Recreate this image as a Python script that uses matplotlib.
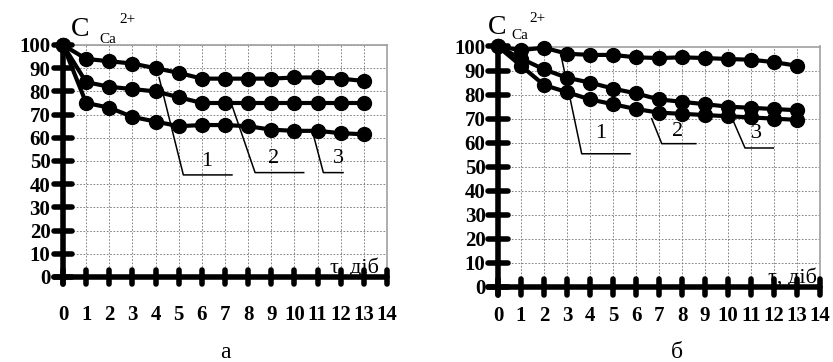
import numpy as np
import matplotlib.pyplot as plt

plt.rcParams['font.family'] = ['Liberation Serif', 'DejaVu Serif']

days = list(range(14))

# panel a
a1 = [100, 94, 93, 92, 90, 88, 85.5, 85.5, 85.5, 85.5, 86, 86, 85.5, 84.5]
a2 = [100, 84, 82, 81, 80, 77.5, 75, 75, 75, 75, 75, 75, 75, 75]
a3 = [100, 75, 73, 69, 67, 65, 65.5, 65.5, 65, 63.5, 63, 63, 62, 61.5]

# panel b
b1 = [100, 98.5, 99.5, 97, 96.5, 96.5, 95.5, 95.2, 95.5, 95.2, 94.8, 94.5, 93.5, 92]
b2 = [100, 95, 90.5, 87, 85, 82.5, 80.5, 78, 77, 76, 75, 74.5, 74, 73.5]
b3 = [100, 92, 84, 81, 78, 76, 74, 72.5, 72, 71.5, 71, 70.5, 70, 69.5]

xticks = list(range(15))
yticks = list(range(0, 101, 10))

fig = plt.figure(figsize=(8.33, 3.62), dpi=100)


def panel(rect, series, leaders, pad_x, ytick_half, xtick_half):
    ax = fig.add_axes(rect)
    ax.set_xlim(0, 14)
    ax.set_ylim(0, 100)
    ax.set_xticks(xticks)
    ax.set_yticks(yticks)
    ax.set_xticklabels([str(v) for v in xticks], fontsize=15, fontweight='bold')
    ax.set_yticklabels([str(v) for v in yticks], fontsize=15, fontweight='bold')
    ax.tick_params(length=0, pad=9, axis='y')
    ax.tick_params(length=0, pad=pad_x, axis='x')
    ax.grid(True, color='#707070', linestyle=(0, (2, 2)), linewidth=0.6)
    for s in ['left', 'bottom']:
        ax.spines[s].set_visible(False)
    for s in ['top', 'right']:
        ax.spines[s].set_color('#a0a0a0')
        ax.spines[s].set_linewidth(1.2)

    # thick axes with cross ticks
    ax.plot([-ytick_half, 14], [0, 0], color='black', lw=4, clip_on=False,
            solid_capstyle='round', zorder=5)
    ax.plot([0, 0], [-xtick_half, 100], color='black', lw=4, clip_on=False,
            solid_capstyle='round', zorder=5)
    for v in yticks:
        ax.plot([-ytick_half, ytick_half], [v, v], color='black', lw=4,
                clip_on=False, solid_capstyle='round', zorder=5)
    for v in xticks:
        ax.plot([v, v], [-xtick_half, xtick_half], color='black', lw=4,
                clip_on=False, solid_capstyle='round', zorder=5)

    for ys in series:
        ax.plot(days, ys, color='black', lw=3, marker='o', markersize=10,
                clip_on=False, zorder=6)

    for lbl, pts, tpos in leaders:
        xs, ys = zip(*pts)
        ax.plot(xs, ys, color='black', lw=1.1, zorder=7)
        ax.text(tpos[0], tpos[1], lbl, fontsize=16, ha='center', va='center',
                zorder=7)
    return ax


ax1 = panel([63 / 833, 1 - 277 / 362, 324 / 833, 232 / 362],
            [a1, a2, a3],
            [('1', [(4.15, 86), (5.2, 44), (7.3, 44)], (6.2, 50)),
             ('2', [(7.3, 74), (8.3, 45), (10.4, 45)], (9.1, 51)),
             ('3', [(10.8, 62), (11.25, 45), (12.1, 45)], (11.9, 51))],
            pad_x=20, ytick_half=0.4, xtick_half=3)
ax1.text(0.73, 106.5, 'C', fontsize=20, ha='center', va='center', clip_on=False)
ax1.text(1.95, 102.5, 'Ca', fontsize=11, ha='center', va='center', clip_on=False)
ax1.text(2.8, 111, '2+', fontsize=11, ha='center', va='center', clip_on=False)
ax1.text(13.65, 4, 'τ, діб', fontsize=16, ha='right', va='center', zorder=8)

ax2 = panel([498 / 833, 1 - 287 / 362, 322 / 833, 240.5 / 362],
            [b1, b2, b3],
            [('1', [(2.77, 95), (3.64, 55.4), (5.74, 55.4)], (4.45, 64)),
             ('2', [(6.68, 70), (7.12, 59.6), (8.6, 59.6)], (7.8, 64.5)),
             ('3', [(10.23, 69), (10.74, 57.8), (11.97, 57.8)], (11.25, 64))],
            pad_x=14, ytick_half=0.45, xtick_half=3.5)
ax2.text(-0.05, 108, 'C', fontsize=20, ha='center', va='center', clip_on=False)
ax2.text(0.95, 104.5, 'Ca', fontsize=11, ha='center', va='center', clip_on=False)
ax2.text(1.7, 111.5, '2+', fontsize=11, ha='center', va='center', clip_on=False)
ax2.text(13.85, 4, 'τ, діб', fontsize=16, ha='right', va='center', zorder=8)

fig.text(225 / 833, 1 - 353 / 362, 'а', fontsize=17, ha='center', va='center')
fig.text(677 / 833, 1 - 352 / 362, 'б', fontsize=17, ha='center', va='center')

fig.savefig('out.png', dpi=100)
